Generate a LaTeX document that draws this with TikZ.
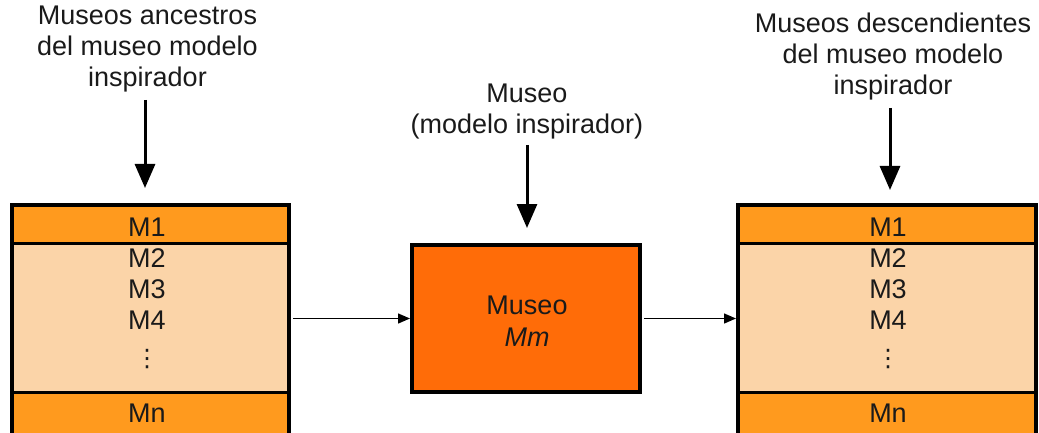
\documentclass[tikz,border=0pt]{standalone}
\usepackage{fontspec}
\setmainfont{Liberation Sans}
\newfontfamily\symfont{DejaVu Sans}
\usetikzlibrary{arrows.meta}
\definecolor{bandorange}{HTML}{FF9A1E}
\definecolor{lightpeach}{HTML}{FBD4A8}
\definecolor{midorange}{HTML}{FF6C08}
\definecolor{ink}{HTML}{1A1A1A}
\begin{document}
\begin{tikzpicture}[x=1pt,y=-1pt,
  txt/.style={font=\fontsize{27}{31}\selectfont, text=ink, inner sep=0pt, align=center},
  dots/.style={font=\symfont\fontsize{24}{24}\selectfont, text=ink, inner sep=0pt},
  band/.style={fill=bandorange, draw=black, line width=3pt, inner sep=0pt},
  pale/.style={fill=lightpeach, draw=black, line width=3pt, inner sep=0pt},
  frame/.style={draw=black, line width=4pt, inner sep=0pt},
  bigarrow/.style={line width=3pt, -{Triangle[width=20pt,length=24pt]}},
  thinarrow/.style={line width=1.4pt, -{Triangle[width=10pt,length=12pt]}}]
\useasboundingbox[fill=white] (0,0) rectangle (1039,433);

% ancestor museums (left stack)
\node[band, minimum width=277pt, minimum height=38pt] (la) at (150.5,224) {};
\node[pale, minimum width=277pt, minimum height=149pt] (lb) at (150.5,317.5) {};
\node[band, minimum width=277pt, minimum height=50pt] (lc) at (150.5,417) {};
\node[frame, minimum width=277pt, minimum height=237pt] (lbox) at (150.5,323.5) {};
\node[txt] (l1) at (147,227) {M1};
\node[txt] (l2) at (147,258) {M2};
\node[txt] (l3) at (147,289) {M3};
\node[txt] (l4) at (147,320) {M4};
\node[dots] (l5) at (147,359) {⋮};
\node[txt] (ln) at (147,413) {Mn};

% inspiring model museum (centre)
\node[frame, fill=midorange, minimum width=228pt, minimum height=147pt] (mid) at (526,318.5) {};
\node[txt] (m1) at (527,305) {Museo};
\node[txt] (m2) at (527,337) {\itshape Mm};

% descendant museums (right stack)
\node[band, minimum width=298pt, minimum height=38pt] (ra) at (887,224) {};
\node[pale, minimum width=298pt, minimum height=149pt] (rb) at (887,317.5) {};
\node[band, minimum width=298pt, minimum height=50pt] (rc) at (887,417) {};
\node[frame, minimum width=298pt, minimum height=237pt] (rbox) at (887,323.5) {};
\node[txt] (r1) at (888,227) {M1};
\node[txt] (r2) at (888,258) {M2};
\node[txt] (r3) at (888,289) {M3};
\node[txt] (r4) at (888,320) {M4};
\node[dots] (r5) at (888,359) {⋮};
\node[txt] (rn) at (888,413) {Mn};

% titles
\node[txt] (lt) at (147.5,49) {Museos ancestros\\del museo modelo\\inspirador};
\node[txt] (mt) at (527,111.5) {Museo\\(modelo inspirador)};
\node[txt] (rt) at (893,57) {Museos descendientes\\del museo modelo\\inspirador};

% connectors
\coordinate (lta) at (145,100);
\coordinate (ltb) at (145,188);
\draw[bigarrow] (lta) -- (ltb);
\coordinate (mta) at (527,145);
\coordinate (mtb) at (527,228);
\draw[bigarrow] (mta) -- (mtb);
\coordinate (rta) at (890,108);
\coordinate (rtb) at (890,190);
\draw[bigarrow] (rta) -- (rtb);

\draw[thinarrow] (lbox.east |- mid.west) ++(2pt,0) -- (mid.west);
\draw[thinarrow] (mid.east) ++(2pt,0) -- (rbox.west |- mid.east);
\end{tikzpicture}
\end{document}
